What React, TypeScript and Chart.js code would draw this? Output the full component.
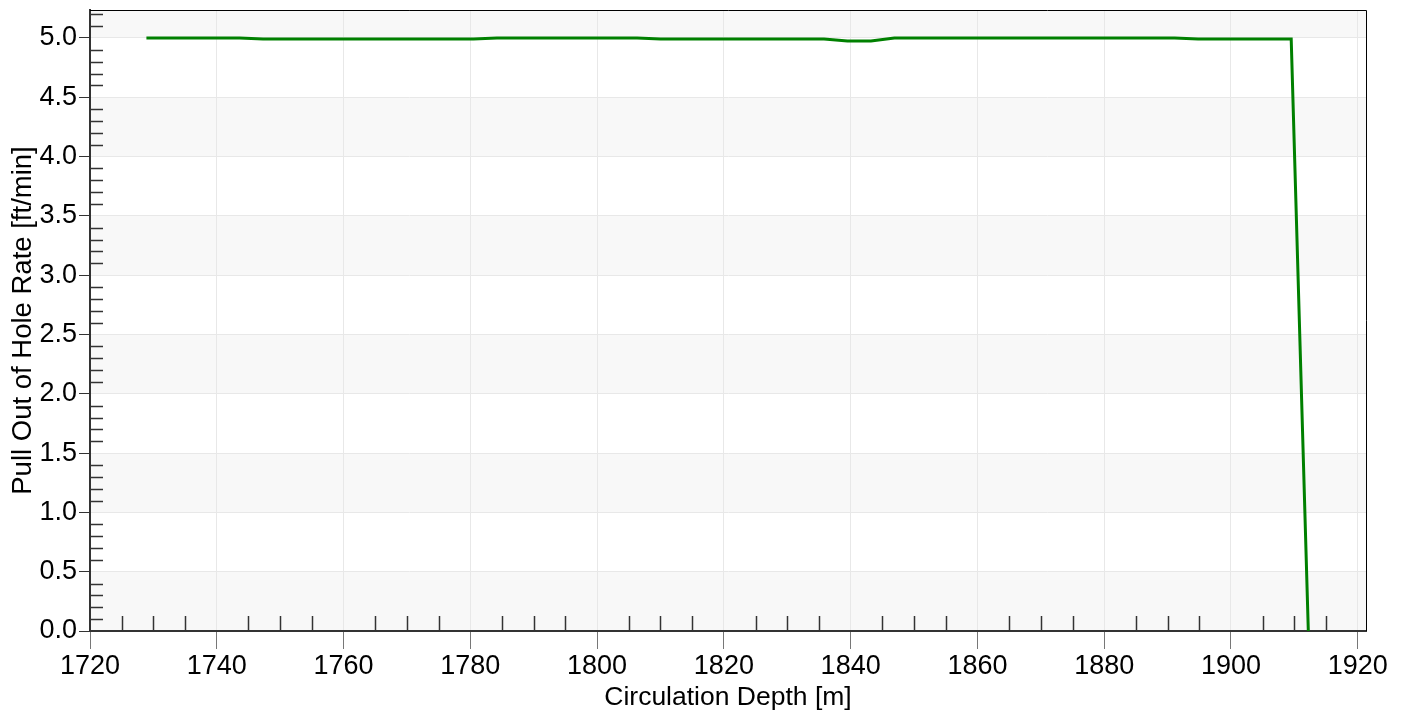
import React, { useEffect, useRef } from "react";
import { Chart, registerables } from "chart.js";

Chart.register(...registerables);

const depths = [
  1728.9, 1732.6, 1736.3, 1740.0, 1743.6, 1747.3, 1751.0, 1754.7, 1758.4, 1762.1,
  1765.8, 1769.4, 1773.1, 1776.8, 1780.5, 1784.2, 1787.9, 1791.6, 1795.2, 1798.9,
  1802.6, 1806.3, 1810.0, 1813.7, 1817.4, 1821.1, 1824.7, 1828.4, 1832.1, 1835.8,
  1839.5, 1843.2, 1846.9, 1850.5, 1854.2, 1857.9, 1861.6, 1865.3, 1869.0, 1872.7,
  1876.3, 1880.0, 1883.7, 1887.4, 1891.1, 1894.8, 1898.5, 1902.1, 1905.8, 1909.5,
  1912.2,
];
const rates = [
  5.0, 5.0, 5.0, 5.0, 5.0, 4.992, 4.992, 4.992, 4.992, 4.992,
  4.992, 4.992, 4.992, 4.992, 4.992, 5.0, 5.0, 5.0, 5.0, 5.0,
  5.0, 5.0, 4.992, 4.992, 4.992, 4.992, 4.992, 4.992, 4.992, 4.992,
  4.975, 4.975, 5.0, 5.0, 5.0, 5.0, 5.0, 5.0, 5.0, 5.0,
  5.0, 5.0, 5.0, 5.0, 5.0, 4.992, 4.992, 4.992, 4.992, 4.992,
  0.0,
];

const X_MIN = 1720;
const X_MAX = 1921.3;
const Y_MIN = 0;
const Y_MAX = 5.236;
const FONT = '"Liberation Sans", Arial, sans-serif';

const decorPlugin = {
  id: "decor",
  beforeDraw(chart: any) {
    const { ctx, chartArea, scales } = chart;
    const y = scales.y;
    ctx.save();
    ctx.beginPath();
    ctx.rect(chartArea.left, chartArea.top, chartArea.right - chartArea.left, chartArea.bottom - chartArea.top);
    ctx.clip();
    ctx.fillStyle = "#f8f8f8";
    for (let k = 0; k <= 5; k++) {
      const top = y.getPixelForValue(k + 0.5);
      const bot = y.getPixelForValue(k);
      ctx.fillRect(chartArea.left, top, chartArea.right - chartArea.left, bot - top);
    }
    ctx.restore();
  },
  afterDraw(chart: any) {
    const { ctx, chartArea, scales } = chart;
    const x = scales.x;
    const y = scales.y;
    ctx.save();
    ctx.strokeStyle = "#333";
    ctx.lineWidth = 1.5;
    ctx.beginPath();
    for (let i = 1; i <= 52; i++) {
      if (i % 5 === 0) continue;
      const v = i / 10;
      if (v > Y_MAX) break;
      const py = Math.round(y.getPixelForValue(v)) + 0.5;
      ctx.moveTo(chartArea.left, py);
      ctx.lineTo(chartArea.left + 13, py);
    }
    for (let v = 1725; v < X_MAX; v += 5) {
      if ((v - 1720) % 20 === 0) continue;
      const px = Math.round(x.getPixelForValue(v)) + 0.5;
      ctx.moveTo(px, chartArea.bottom);
      ctx.lineTo(px, chartArea.bottom - 15);
    }
    ctx.stroke();
    ctx.strokeStyle = "#000";
    ctx.lineWidth = 1;
    ctx.beginPath();
    ctx.moveTo(chartArea.left, chartArea.top + 0.5);
    ctx.lineTo(chartArea.right + 0.5, chartArea.top + 0.5);
    ctx.lineTo(chartArea.right + 0.5, chartArea.bottom);
    ctx.stroke();
    ctx.restore();
  },
};

export default function App() {
  const ref = useRef<HTMLCanvasElement | null>(null);
  useEffect(() => {
    if (!ref.current) return;
    const chart = new Chart(ref.current, {
      type: "line",
      data: {
        datasets: [
          {
            data: depths.map((d, i) => ({ x: d, y: rates[i] })),
            borderColor: "#008000",
            borderWidth: 3,
            pointRadius: 0,
            tension: 0,
            fill: false,
          },
        ],
      },
      options: {
        animation: false,
        responsive: true,
        maintainAspectRatio: false,
        layout: { padding: { top: 10, right: 42, left: 0, bottom: 0 } },
        plugins: { legend: { display: false }, tooltip: { enabled: false } },
        scales: {
          x: {
            type: "linear",
            min: X_MIN,
            max: X_MAX,
            afterFit(scale: any) {
              scale.height = 84;
              scale.paddingLeft = 0;
              scale.paddingRight = 0;
            },
            ticks: {
              stepSize: 20,
              includeBounds: false,
              color: "#000",
              font: { family: FONT, size: 27 },
              padding: 1,
              maxRotation: 0,
              callback: (v: any) => String(Math.round(Number(v))),
            },
            grid: {
              color: "#e8e8e8",
              tickColor: "#777",
              tickLength: 18,
              lineWidth: 1,
            },
            border: { color: "#333", width: 2 },
            title: {
              display: true,
              text: "Circulation Depth [m]",
              color: "#000",
              font: { family: FONT, size: 26.5 },
              padding: { top: 0, bottom: 1 },
            },
          },
          y: {
            type: "linear",
            min: Y_MIN,
            max: Y_MAX,
            afterFit(scale: any) {
              scale.width = 90;
              scale.paddingTop = 0;
              scale.paddingBottom = 0;
            },
            ticks: {
              stepSize: 0.5,
              includeBounds: false,
              color: "#000",
              font: { family: FONT, size: 27 },
              padding: 2,
              callback: (v: any) => Number(v).toFixed(1),
            },
            grid: {
              color: "#e8e8e8",
              tickColor: "#333",
              tickLength: 11,
              lineWidth: 1,
            },
            border: { color: "#333", width: 2 },
            title: {
              display: true,
              text: "Pull Out of Hole Rate [ft/min]",
              color: "#000",
              font: { family: FONT, size: 27.5 },
              padding: { top: 7, bottom: 0 },
            },
          },
        },
      },
      plugins: [decorPlugin],
    } as any);
    return () => chart.destroy();
  }, []);
  return (
    <div style={{ position: "absolute", left: 0, top: 0, width: 1408, height: 715, background: "#fff" }}>
      <canvas ref={ref} />
    </div>
  );
}
